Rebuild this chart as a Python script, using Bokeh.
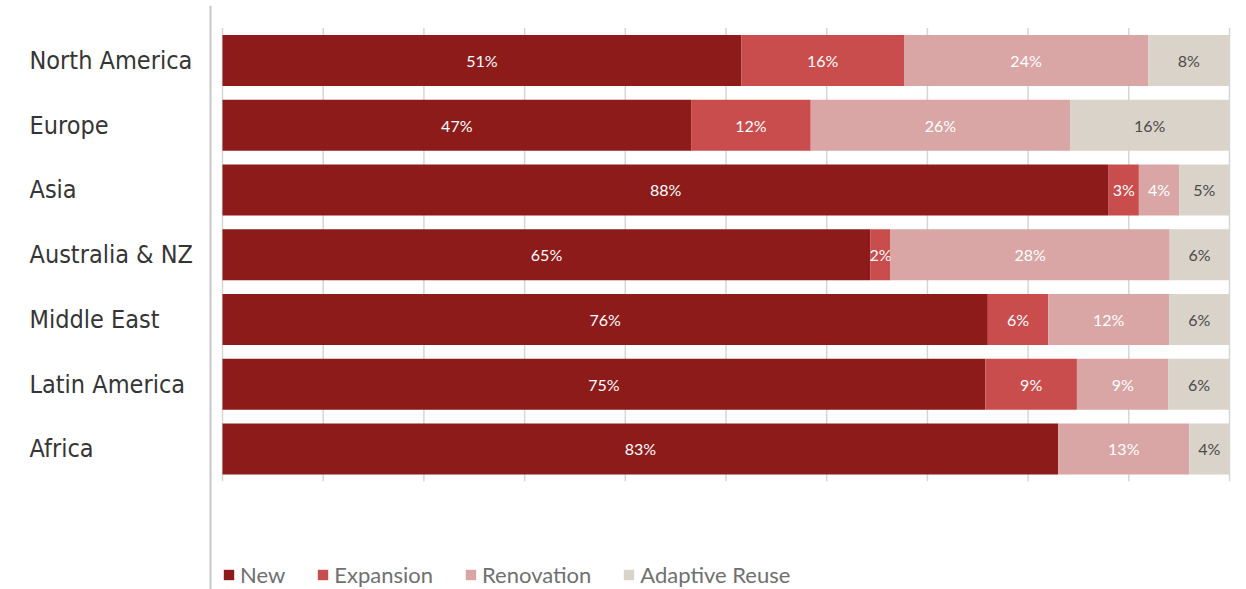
from bokeh.plotting import figure
from bokeh.models import Range1d, Legend, LegendItem, ColumnDataSource, Span
from bokeh.core.properties import value
from bokeh.embed import file_html
from bokeh.resources import INLINE

categories = ["North America", "Europe", "Asia", "Australia & NZ", "Middle East", "Latin America", "Africa"]
series_names = ["New", "Expansion", "Renovation", "Adaptive Reuse"]
new = [51, 47, 88, 65, 76, 75, 83]
expansion = [16, 12, 3, 2, 6, 9, 0]
renovation = [24, 26, 4, 28, 12, 9, 13]
adaptive = [8, 16, 5, 6, 6, 6, 4]
grid_ticks = [0, 10, 20, 30, 40, 50, 60, 70, 80, 90, 100]

colors = ["#8C1B1A", "#CA4D4D", "#D9A5A5", "#D9D3C9"]
label_colors = ["#FFFFFF", "#FFFFFF", "#FFFFFF", "#4A4A4A"]

series = [new, expansion, renovation, adaptive]
n = len(categories)
ys = list(range(n))

PX = 10.07  # pixels per percent
p = figure(width=1246, height=589, output_backend="svg", toolbar_location=None,
           x_range=Range1d(-222 / PX, 100 + 17 / PX), y_range=Range1d(8.170, -0.8494),
           x_axis_location=None, y_axis_location=None, min_border_left=0, min_border_right=0,
           min_border_top=5, min_border_bottom=0)
p.outline_line_color = None
p.xgrid.visible = False
p.ygrid.visible = False
p.background_fill_color = "white"

# left rule
p.add_layout(Span(location=-12 / PX, dimension="height", line_color="#C8C8C8", line_width=2))

# grid lines
p.segment(x0=grid_ticks, x1=grid_ticks, y0=[-0.5] * len(grid_ticks), y1=[n - 0.5] * len(grid_ticks),
          line_color="#D6D6D6", line_width=1.5)

# category labels
p.text(x=[-(222 - 29) / PX] * n, y=ys, text=categories, text_align="left", text_baseline="middle",
       text_font=value("DejaVu Sans Condensed"), text_font_size="25px", text_color="#353535")

totals = [sum(s[i] for s in series) for i in range(n)]
lefts = [0.0] * n
renderers = []
for k, s in enumerate(series):
    l = lefts[:]
    r = [lefts[i] + 100.0 * s[i] / totals[i] for i in range(n)]
    src = ColumnDataSource(dict(y=ys, left=l, right=r))
    rr = p.hbar(y="y", left="left", right="right", height=0.79, source=src,
                fill_color=colors[k], line_color=None)
    renderers.append(rr)
    lx, ly, lt = [], [], []
    for i in range(n):
        if s[i] > 0:
            lx.append((l[i] + r[i]) / 2)
            ly.append(i)
            lt.append(f"{s[i]}%")
    p.text(x=lx, y=ly, text=lt, text_align="center", text_baseline="middle",
           text_font_size="16px", text_color=label_colors[k], text_font=value("Lato"))
    lefts = r

legend = Legend(items=[LegendItem(label=series_names[k], renderers=[renderers[k]]) for k in range(4)],
                orientation="horizontal", location=(222, 1), padding=0, margin=0,
                spacing=31, label_standoff=5, glyph_width=13, glyph_height=13,
                label_text_font="Lato", label_text_font_size="22px", label_text_color="#707070",
                border_line_color=None, background_fill_alpha=0)
p.add_layout(legend, "center")

open("out.html", "w").write(file_html(p, INLINE))
